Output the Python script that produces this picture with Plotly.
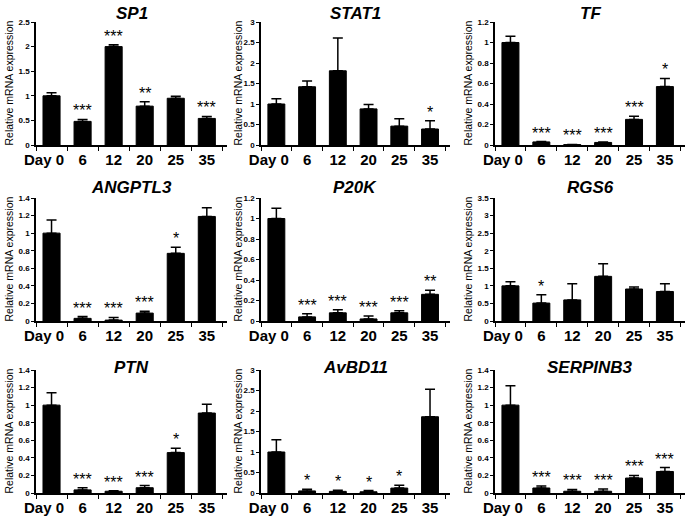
import plotly.graph_objects as go
from plotly.subplots import make_subplots

days = ["Day 0", "6", "12", "20", "25", "35"]

genes = ["SP1", "STAT1", "TF", "ANGPTL3", "P20K", "RGS6", "PTN", "AvBD11", "SERPINB3"]

# mean relative expression per gene
sp1 = [1.0, 0.48, 2.0, 0.79, 0.95, 0.54]
stat1 = [1.0, 1.42, 1.81, 0.88, 0.46, 0.39]
tf = [1.0, 0.03, 0.004, 0.025, 0.25, 0.57]
angptl3 = [1.0, 0.03, 0.01, 0.09, 0.77, 1.19]
p20k = [1.0, 0.04, 0.08, 0.02, 0.08, 0.26]
rgs6 = [1.0, 0.51, 0.6, 1.27, 0.91, 0.84]
ptn = [1.0, 0.035, 0.02, 0.06, 0.46, 0.91]
avbd11 = [1.0, 0.05, 0.04, 0.03, 0.12, 1.86]
serpinb3 = [1.0, 0.057, 0.02, 0.02, 0.17, 0.245]

# upper error (SE)
sp1_err = [0.06, 0.04, 0.04, 0.09, 0.04, 0.04]
stat1_err = [0.13, 0.14, 0.8, 0.11, 0.18, 0.2]
tf_err = [0.06, 0.004, 0.002, 0.004, 0.03, 0.08]
angptl3_err = [0.15, 0.02, 0.03, 0.02, 0.07, 0.1]
p20k_err = [0.1, 0.03, 0.03, 0.03, 0.02, 0.04]
rgs6_err = [0.12, 0.24, 0.46, 0.36, 0.06, 0.22]
ptn_err = [0.14, 0.025, 0.005, 0.025, 0.05, 0.1]
avbd11_err = [0.3, 0.04, 0.03, 0.03, 0.07, 0.67]
serpinb3_err = [0.22, 0.023, 0.02, 0.025, 0.03, 0.045]

# significance marks
sp1_sig = ["", "***", "***", "**", "", "***"]
stat1_sig = ["", "", "", "", "", "*"]
tf_sig = ["", "***", "***", "***", "***", "*"]
angptl3_sig = ["", "***", "***", "***", "*", ""]
p20k_sig = ["", "***", "***", "***", "***", "**"]
rgs6_sig = ["", "*", "", "", "", ""]
ptn_sig = ["", "***", "***", "***", "*", ""]
avbd11_sig = ["", "*", "*", "*", "*", ""]
serpinb3_sig = ["", "***", "***", "***", "***", "***"]

y_max = [2.5, 3, 1.2, 1.4, 1.2, 3.5, 1.4, 3, 1.4]
y_dtick = [0.5, 0.5, 0.2, 0.2, 0.2, 0.5, 0.2, 0.5, 0.2]

values = [sp1, stat1, tf, angptl3, p20k, rgs6, ptn, avbd11, serpinb3]
errors = [sp1_err, stat1_err, tf_err, angptl3_err, p20k_err, rgs6_err, ptn_err, avbd11_err, serpinb3_err]
sigs = [sp1_sig, stat1_sig, tf_sig, angptl3_sig, p20k_sig, rgs6_sig, ptn_sig, avbd11_sig, serpinb3_sig]

W, H = 689, 519
col_px = [(36, 227), (261, 450), (495, 685)]
row_px = [(22, 145), (198, 321), (370, 493)]
title_y = [13, 188, 367]
ytitle_x = [8, 237, 467]


def px_x(p):
    return p / W


def px_y(p):
    return 1 - p / H


FONT = "Arial, Liberation Sans, sans-serif"

fig = make_subplots(rows=3, cols=3)

for i, g in enumerate(genes):
    r, c = i // 3, i % 3
    fig.add_trace(go.Bar(
        x=days, y=values[i],
        marker=dict(color="black", line=dict(color="black", width=1)),
        error_y=dict(type="data", symmetric=False, array=errors[i],
                     arrayminus=[0] * 6, color="black", thickness=1.5, width=5),
        showlegend=False,
    ), row=r + 1, col=c + 1)

    x0, x1 = col_px[c]
    y0, y1 = row_px[r]
    fig.update_xaxes(domain=[px_x(x0), px_x(x1)], row=r + 1, col=c + 1)
    fig.update_yaxes(domain=[px_y(y1), px_y(y0)], range=[0, y_max[i]],
                     dtick=y_dtick[i], row=r + 1, col=c + 1)

    xref = "x" if i == 0 else "x%d" % (i + 1)
    yref = "y" if i == 0 else "y%d" % (i + 1)
    for j, (v, e, s) in enumerate(zip(values[i], errors[i], sigs[i])):
        if s:
            fig.add_annotation(x=j, y=v + e, xref=xref, yref=yref, text=s,
                               showarrow=False, yanchor="bottom", yshift=-2,
                               font=dict(family=FONT, size=16, color="black"))

    # gene name
    fig.add_annotation(x=px_x((x0 + x1) / 2), y=px_y(title_y[r]), xref="paper", yref="paper",
                       text="<b><i>%s</i></b>" % g, showarrow=False,
                       xanchor="center", yanchor="middle",
                       font=dict(family=FONT, size=17, color="black"))
    # y axis title
    fig.add_annotation(x=px_x(ytitle_x[c]), y=px_y((y0 + y1) / 2), xref="paper", yref="paper",
                       text="Relative mRNA expression", textangle=-90, showarrow=False,
                       xanchor="center", yanchor="middle",
                       font=dict(family=FONT, size=10.5, color="black"))

fig.update_xaxes(type="category", range=[-0.5, 5.65], showline=True, linecolor="black",
                 linewidth=1.5, ticks="outside", tickson="boundaries", ticklen=4,
                 tickcolor="black", tickwidth=1.2, showgrid=False, tickangle=0,
                 automargin=False,
                 tickvals=days, ticktext=["Day 0\u2002\u2002", "6", "12", "20", "25", "35"],
                 tickfont=dict(family=FONT, size=15, color="black", weight="bold"))
fig.update_yaxes(showline=True, linecolor="black", linewidth=1.5, ticks="outside",
                 ticklen=3, tickcolor="black", tickwidth=1.2, showgrid=False, zeroline=False,
                 automargin=False,
                 tickfont=dict(family=FONT, size=8, color="black", weight="bold"))

fig.update_layout(width=W, height=H, margin=dict(l=0, r=0, t=0, b=0),
                  plot_bgcolor="white", paper_bgcolor="white", bargap=0.45,
                  font=dict(family=FONT, color="black"))

# drop the default page margin so the figure sits at the window's corner
fig.write_html("out.html", config={"displayModeBar": False},
               post_script="document.body.style.margin='0';")
